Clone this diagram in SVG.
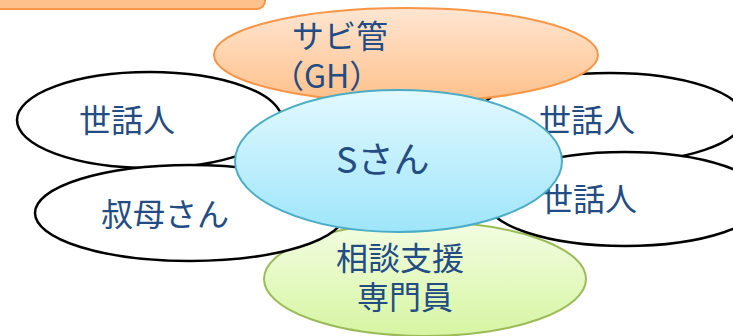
<svg xmlns="http://www.w3.org/2000/svg" width="733" height="336" viewBox="0 0 733 336">
<defs>
<linearGradient id="gS" x1="0" y1="0" x2="0" y2="1"><stop offset="0" stop-color="#E2F9FF"/><stop offset="1" stop-color="#9EE5FA"/></linearGradient>
<linearGradient id="gO" x1="0" y1="0" x2="0" y2="1"><stop offset="0" stop-color="#FFE6D2"/><stop offset="1" stop-color="#FFC08A"/></linearGradient>
<linearGradient id="gG" x1="0" y1="0" x2="0" y2="1"><stop offset="0" stop-color="#F3FDE2"/><stop offset="1" stop-color="#D6F5A2"/></linearGradient>
<style>
.w{fill:#FFFFFF;stroke:#000000;stroke-width:2.5}
.t{font-family:"Noto Sans CJK JP","Noto Sans",sans-serif;font-size:32px;fill:#234C84}
</style>
</defs>
<rect width="733" height="336" fill="#FFFFFF"/>
<g id="banner"><rect x="-10" y="-20" width="275" height="29" rx="8" fill="#FFC18B" stroke="#F79646" stroke-width="2"/></g>
<g id="node-soudan">
<ellipse cx="425" cy="279" rx="161" ry="57" fill="url(#gG)" stroke="#9BBB59" stroke-width="2"/>
<text class="t" text-anchor="middle"><tspan x="400" y="270">相談支援</tspan><tspan x="405" y="309">専門員</tspan></text>
</g>
<g id="node-sewanin-rt">
<ellipse class="w" cx="610" cy="118" rx="134" ry="45"/>
<text class="t" x="539" y="132">世話人</text>
</g>
<g id="node-sewanin-rb">
<ellipse class="w" cx="625" cy="199" rx="140" ry="47"/>
<text class="t" x="541" y="211">世話人</text>
</g>
<g id="node-sewanin-l">
<ellipse class="w" cx="149.5" cy="120" rx="132.5" ry="48"/>
<text class="t" x="79" y="132">世話人</text>
</g>
<g id="node-oba">
<ellipse class="w" cx="190" cy="213" rx="155" ry="48"/>
<text class="t" x="101" y="226">叔母さん</text>
</g>
<g id="node-sabikan">
<ellipse cx="406" cy="55" rx="192" ry="47" fill="url(#gO)" stroke="#F79646" stroke-width="2"/>
<text class="t"><tspan x="292" y="48">サビ管</tspan><tspan x="272" y="88">（GH）</tspan></text>
</g>
<g id="node-s">
<ellipse cx="398.5" cy="161" rx="163.5" ry="71" fill="url(#gS)" stroke="#4BACC6" stroke-width="2"/>
<text class="t" x="336" y="173" style="font-size:36px">Sさん</text>
</g>
<g id="connectors"/>
</svg>
